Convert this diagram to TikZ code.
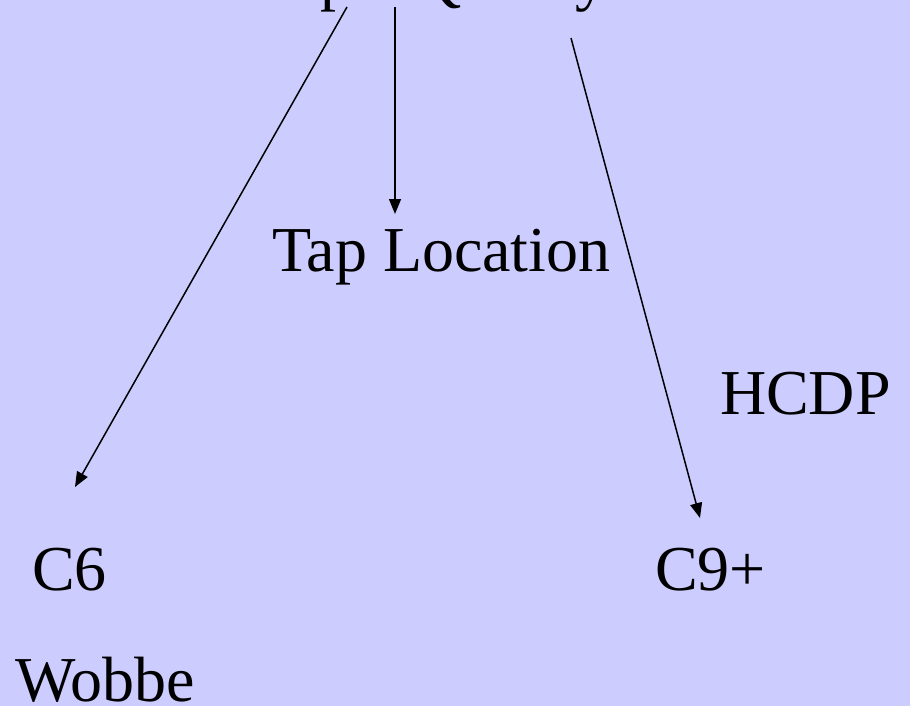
\documentclass[tikz,border=0pt]{standalone}
\usepackage{fontspec}
\setmainfont{Liberation Serif}
\usetikzlibrary{arrows.meta}
\definecolor{bgc}{HTML}{CCCCFF}
\tikzset{
  lbl/.style={anchor=base west, inner sep=0pt, outer sep=0pt, font=\fontsize{64}{76}\selectfont},
  arr/.style={line width=1.5pt, -{Triangle[length=15pt,width=12pt]}}
}
\begin{document}
\begin{tikzpicture}[x=1pt,y=-1pt]
\fill[bgc] (0,0) rectangle (910,706);
\useasboundingbox (0,0) rectangle (910,706);
\node[lbl] (top) at (207,-1) {Sample Quality};
\node[lbl] (tap) at (272,271) {Tap Location};
\node[lbl] (hcdp) at (720,414) {HCDP};
\node[lbl] (c6) at (32,590) {C6};
\node[lbl] (c9) at (655,590) {C9+};
\node[lbl] (wobbe) at (15,701) {Wobbe};
\coordinate (s1) at (347,7);
\coordinate (e1) at (75,487);
\coordinate (s2) at (395,7);
\coordinate (e2) at (395,214);
\coordinate (s3) at (571,38);
\coordinate (e3) at (700,518);
\draw[arr] (s1) -- (e1);
\draw[arr] (s2) -- (e2);
\draw[arr] (s3) -- (e3);
\end{tikzpicture}
\end{document}
